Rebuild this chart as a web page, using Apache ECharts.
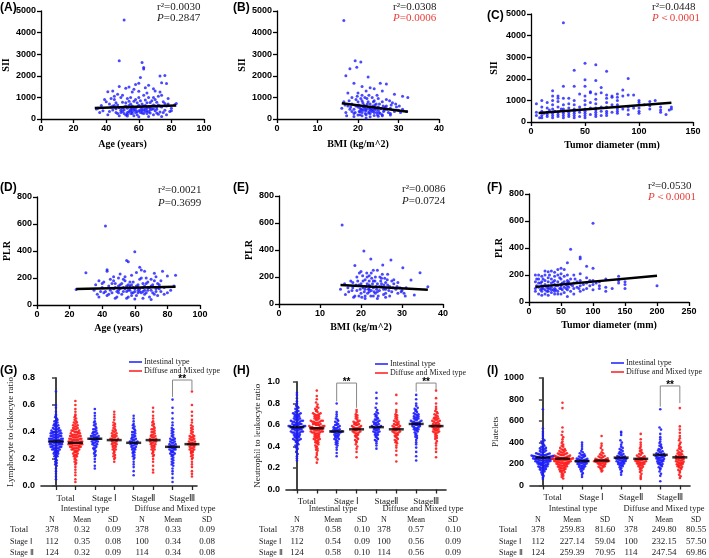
<!DOCTYPE html>
<html><head><meta charset="utf-8">
<script src="https://cdn.jsdelivr.net/npm/echarts@6/dist/echarts.min.js"></script>
<style>html,body{margin:0;padding:0;background:#fff}#c{width:709px;height:558px}</style>
</head><body><div id="c"></div>
<script>
// ---------------- DATA ----------------
const ageSII = [[51,4580],[48,2700],[62,2620],[63,2380],[63,2320],[73,1990],[76,2010],[61,1920],[77,1640],[74,1680],[60,1650],[58,1600],[66,1560],[54,1480],[48,1510],[44,1300],[41,1260],[52,1420],[57,1380],[64,1450],[69,1400],[70,1300],[73,1250],[56,1250],[60,1280],[47,1150],[50,1100],[45,1050],[39,900],[35,500],[34,460],[37,620],[38,380],[40,800],[42,700],[43,560],[44,420],[45,900],[46,300],[47,650],[48,520],[49,400],[50,780],[51,250],[52,600],[53,950],[54,350],[55,700],[56,480],[57,820],[58,300],[59,560],[60,1000],[61,420],[62,700],[63,250],[64,880],[65,500],[66,340],[67,760],[68,600],[69,200],[70,900],[71,450],[72,650],[73,320],[74,550],[75,800],[76,400],[77,600],[78,700],[79,350],[80,500],[82,660],[83,720],[36,300],[41,200],[43,950],[45,620],[47,250],[49,1000],[50,350],[52,180],[53,500],[54,820],[55,250],[56,600],[57,400],[58,900],[59,200],[60,640],[61,300],[62,500],[63,1100],[64,350],[65,750],[66,1000],[67,280],[68,450],[69,650],[70,380],[71,780],[72,220],[73,600],[74,1100],[75,300],[76,720],[77,200],[44,600],[46,750],[48,150],[51,560],[53,300],[55,1000],[57,150],[59,750],[61,850],[63,600],[65,250],[67,520],[69,1000],[71,280],[55,450],[58,520],[60,380],[62,280],[64,620],[66,550],[68,850],[52,750],[50,500],[54,620],[56,330],[46,470],[42,350],[65,1200],[70,600],[72,1050],[78,950],[80,380],[66,120],[60,100],[53,140],[74,120],[49,300],[51,420],[53,220],[55,380],[57,520],[59,330],[61,560],[63,420],[65,380],[67,420],[69,480],[71,560],[58,420],[62,380],[56,260],[64,480]];
const bmiSII = [[16.5,4560],[19.3,2700],[20.7,2640],[19.7,2400],[18,2330],[17,2000],[22.5,1950],[25.5,1650],[27,1620],[19,1650],[21,1500],[23,1450],[24,1400],[26,1300],[22,1300],[29,1150],[31,1050],[32.3,1000],[17.5,1200],[18.5,1000],[16,500],[16.5,800],[17,300],[17.5,600],[18,450],[18.5,700],[19,250],[19.5,900],[20,550],[20.5,350],[21,1100],[21.5,650],[22,200],[22.5,800],[23,450],[23.5,1000],[24,300],[24.5,700],[25,550],[25.5,250],[26,800],[26.5,400],[27,600],[27.5,300],[28,500],[28.5,750],[29,350],[29.5,550],[30,400],[30.5,300],[31,450],[32,350],[19,450],[20,800],[21,300],[22,600],[23,250],[24,850],[25,400],[26,200],[27,900],[28,250],[20,1200],[21,850],[22,450],[23,700],[24,550],[25,950],[19.5,600],[20.5,200],[21.5,400],[22.5,500],[23.5,350],[24.5,450],[18.5,350],[17.8,850],[20.2,650],[21.2,750],[22.2,950],[23.2,550],[24.2,650],[25.2,300],[26.2,600],[27.2,450],[28.2,650],[20.8,450],[21.8,250],[22.8,350],[23.8,800],[24.8,200],[19.8,1050],[18.2,550],[16.8,650],[21.3,550],[22.3,700],[23.3,400],[24.3,500],[25.3,700],[26.3,350],[20.3,350],[19.3,300],[22.7,1100],[23.7,600],[21.7,1000],[20.7,950],[24.7,1100],[26.7,550],[29.3,700],[30.2,600],[27.8,850],[17.2,150],[19,120],[21,150],[23,100],[25,130],[22,50],[24,160],[20,180],[26,150],[28,180],[21,420],[22,380],[23,520],[24,400],[20.5,500],[22.6,280],[23.6,450],[21.6,520],[24.6,300],[25.6,480]];
const tumorSII = [[30,4600],[50,2720],[60,2650],[40,2400],[70,2350],[50,1960],[60,1920],[90,2010],[85,1480],[30,1650],[50,1650],[40,1650],[20,1450],[25,1200],[65,1600],[55,1400],[60,1300],[70,1250],[80,1300],[75,1200],[100,1000],[100,900],[110,950],[120,700],[120,550],[130,700],[128,550],[5,300],[5,450],[5,850],[8,200],[10,300],[10,500],[10,700],[10,200],[12,400],[15,250],[15,450],[15,650],[15,350],[15,900],[17,550],[20,200],[20,400],[20,600],[20,800],[20,300],[20,1000],[22,500],[25,250],[25,450],[25,700],[25,350],[25,950],[28,600],[30,200],[30,400],[30,600],[30,800],[30,1100],[30,300],[30,500],[35,250],[35,450],[35,650],[35,850],[35,350],[40,200],[40,400],[40,600],[40,800],[40,300],[40,500],[40,1000],[45,250],[45,450],[45,700],[45,550],[50,200],[50,400],[50,600],[50,800],[50,1000],[50,1200],[50,300],[50,500],[55,350],[55,650],[55,900],[60,250],[60,450],[60,650],[60,850],[60,1050],[60,350],[60,550],[65,300],[65,700],[65,500],[70,300],[70,500],[70,700],[70,900],[70,1100],[70,400],[75,450],[75,800],[80,400],[80,600],[80,800],[80,1000],[80,500],[80,700],[85,600],[90,350],[90,550],[90,700],[95,650],[100,500],[100,650],[100,400],[105,800],[110,600],[110,750],[120,450],[115,1000],[125,350],[130,600],[35,1100],[45,1300],[55,1350],[65,1350],[75,1150],[85,1200],[90,1250],[10,1000],[25,1100],[20,1200],[95,1250],[80,1150]];
const agePLR = [[42,585],[60,395],[55,330],[56,320],[43,262],[43,250],[30,238],[63,280],[64,260],[66,250],[77,250],[80,215],[85,220],[72,235],[61,240],[58,220],[50,200],[47,210],[38,180],[36,150],[35,110],[24,115],[37,80],[38,60],[40,130],[41,170],[42,100],[43,70],[44,140],[45,190],[46,90],[47,120],[48,160],[49,60],[50,110],[51,150],[52,80],[53,130],[54,180],[55,100],[56,60],[57,140],[58,90],[59,170],[60,120],[61,70],[62,150],[63,100],[64,200],[65,130],[66,80],[67,160],[68,110],[69,60],[70,140],[71,90],[72,180],[73,120],[74,70],[75,150],[76,100],[78,130],[80,90],[82,110],[84,140],[45,110],[48,130],[50,90],[52,160],[54,120],[56,150],[58,70],[60,100],[62,130],[64,90],[66,140],[68,170],[70,110],[72,80],[74,130],[46,160],[49,100],[53,100],[57,110],[59,130],[61,140],[63,120],[65,100],[67,90],[69,130],[71,150],[73,100],[75,120],[51,120],[55,140],[59,90],[62,110],[65,160],[68,130],[44,80],[47,180],[53,190],[57,170],[63,190],[67,200],[70,190],[39,100],[41,90],[55,50],[65,50],[70,40],[60,45],[48,50],[73,210],[76,180],[51,230],[54,210],[50,140],[58,150],[66,110],[62,90],[56,110],[78,80],[74,160],[40,160]];
const bmiPLR = [[15.4,585],[20.7,393],[22.4,333],[27.3,326],[25.3,289],[30.2,269],[34.4,232],[18.5,285],[32.2,178],[33,67],[36.3,128],[15,110],[16,150],[17,90],[17.5,170],[18,120],[18.5,60],[19,200],[19,100],[19.5,140],[20,80],[20,240],[20.5,170],[21,110],[21,60],[21.5,200],[22,140],[22,90],[22.5,230],[23,120],[23,170],[23.5,80],[24,150],[24,250],[24.5,100],[25,190],[25,130],[25.5,70],[26,160],[26,110],[26.5,220],[27,130],[27.5,90],[28,150],[28.5,110],[29,80],[29.5,120],[30,100],[30.5,80],[31,120],[18,160],[19.5,60],[20.5,120],[21.5,150],[22.5,100],[23.5,200],[24.5,130],[25.5,110],[26.5,140],[27.5,170],[20,150],[21,180],[22,170],[23,60],[24,90],[25,150],[26,80],[22,110],[21.2,130],[22.8,150],[23.8,110],[24.8,170],[19.8,110],[20.8,90],[21.8,110],[22.2,130],[23.2,90],[18.8,140],[19.2,170],[17.8,100],[16.8,120],[25.8,190],[26.8,100],[27.8,120],[28.8,130],[29.8,90],[24.2,60],[23.7,130],[22.6,190],[21.6,80],[20.4,210],[19.6,230],[25.2,220],[28,180],[29,160],[23,250],[24,40],[21,40],[26,50],[22.4,60],[20.2,50],[18.2,50],[27,60],[16.2,70],[30.8,60],[22,210],[23.4,170],[24.6,200],[25.6,140],[26.4,180],[21.4,230]];
const tumorPLR = [[100,583],[65,390],[80,333],[80,320],[60,290],[90,265],[100,250],[200,120],[50,250],[55,240],[45,240],[35,230],[30,225],[40,220],[25,200],[20,190],[15,170],[10,200],[10,150],[10,100],[10,80],[12,120],[15,60],[15,110],[15,140],[18,90],[20,50],[20,80],[20,120],[20,150],[22,100],[25,60],[25,90],[25,130],[25,160],[28,110],[30,50],[30,80],[30,120],[30,150],[30,180],[32,100],[35,70],[35,110],[35,140],[35,170],[38,90],[40,60],[40,100],[40,130],[40,160],[40,190],[42,120],[45,80],[45,120],[45,150],[45,200],[48,100],[50,60],[50,100],[50,130],[50,170],[50,210],[52,90],[55,70],[55,110],[55,150],[55,190],[58,130],[60,40],[60,90],[60,120],[60,160],[60,200],[62,110],[65,80],[65,130],[65,170],[70,60],[70,100],[70,140],[70,200],[75,110],[75,150],[80,80],[80,120],[80,160],[80,210],[85,130],[90,100],[90,140],[90,180],[95,120],[100,90],[100,130],[100,160],[105,140],[110,120],[110,150],[120,80],[120,110],[120,170],[130,100],[140,140],[140,190],[140,160],[150,100],[150,130],[150,150],[12,170],[18,140],[22,170],[28,80],[32,200],[38,150],[42,90],[48,180],[52,140],[58,100],[62,150],[68,120],[72,170],[78,100],[85,90],[95,160],[110,100],[15,200],[25,230],[45,60],[30,100],[40,80],[50,120],[35,90],[20,100],[60,140]];

// regression lines (end points)
const fitAgeSII = [[33,510],[83,620]];
const fitBmiSII = [[16,730],[32.3,340]];
const fitTumorSII = [[7,420],[130,890]];
const fitAgePLR = [[24,118],[85,135]];
const fitBmiPLR = [[15,140],[36.3,105]];
const fitTumorPLR = [[10,112],[200,195]];

const statsText = [
  ['r²=0.0030','P=0.2847',false],['r²=0.0308','P=0.0006',true],['r²=0.0448','P＜0.0001',true],
  ['r²=0.0021','P=0.3699',false],['r²=0.0086','P=0.0724',false],['r²=0.0530','P＜0.0001',true]
];

const groupLabels = ['Total','Stage Ⅰ','StageⅡ','StageⅢ'];
const seriesNames = ['Intestinal type','Diffuse and Mixed type'];

// G: lymphocyte to leukocyte ratio, groups: Total(I,D), StageI(I,D), StageII(I,D), StageIII(I,D)
const lymG1 = [0.70,0.60,0.58,0.55,0.53,0.52,0.51,0.50,0.49,0.48,0.48,0.47,0.46,0.46,0.45,0.45,0.44,0.44,0.43,0.43,0.42,0.42,0.42,0.41,0.41,0.41,0.40,0.40,0.40,0.40,0.39,0.39,0.39,0.39,0.38,0.38,0.38,0.38,0.37,0.37,0.37,0.37,0.36,0.36,0.36,0.36,0.35,0.35,0.35,0.35,0.35,0.34,0.34,0.34,0.34,0.34,0.33,0.33,0.33,0.33,0.33,0.32,0.32,0.32,0.32,0.32,0.31,0.31,0.31,0.31,0.31,0.30,0.30,0.30,0.30,0.29,0.29,0.29,0.29,0.28,0.28,0.28,0.28,0.27,0.27,0.27,0.26,0.26,0.26,0.25,0.25,0.25,0.24,0.24,0.23,0.23,0.22,0.22,0.21,0.20,0.19,0.18,0.17,0.16,0.15,0.13,0.11,0.09,0.07,0.05];
const lymG2 = [0.63,0.60,0.57,0.55,0.53,0.52,0.51,0.50,0.49,0.48,0.47,0.47,0.46,0.45,0.45,0.44,0.44,0.43,0.43,0.42,0.42,0.41,0.41,0.41,0.40,0.40,0.40,0.39,0.39,0.39,0.38,0.38,0.38,0.38,0.37,0.37,0.37,0.37,0.36,0.36,0.36,0.36,0.35,0.35,0.35,0.35,0.34,0.34,0.34,0.34,0.34,0.33,0.33,0.33,0.33,0.33,0.32,0.32,0.32,0.32,0.32,0.31,0.31,0.31,0.31,0.31,0.30,0.30,0.30,0.30,0.30,0.29,0.29,0.29,0.29,0.28,0.28,0.28,0.28,0.27,0.27,0.27,0.26,0.26,0.26,0.25,0.25,0.24,0.24,0.23,0.23,0.22,0.22,0.21,0.20,0.19,0.18,0.17,0.16,0.14,0.12,0.10,0.08,0.05,0.03];
const lymG3 = [0.57,0.54,0.52,0.50,0.48,0.47,0.46,0.45,0.44,0.43,0.42,0.42,0.41,0.40,0.40,0.39,0.39,0.38,0.38,0.37,0.37,0.37,0.36,0.36,0.36,0.35,0.35,0.35,0.35,0.34,0.34,0.34,0.33,0.33,0.33,0.32,0.32,0.31,0.31,0.30,0.30,0.29,0.28,0.28,0.27,0.26,0.25,0.24,0.23,0.22,0.20,0.18,0.15,0.13];
const lymG4 = [0.55,0.53,0.51,0.49,0.47,0.46,0.45,0.44,0.43,0.42,0.41,0.41,0.40,0.39,0.39,0.38,0.38,0.37,0.37,0.36,0.36,0.35,0.35,0.35,0.34,0.34,0.34,0.33,0.33,0.32,0.32,0.31,0.31,0.30,0.30,0.29,0.29,0.28,0.27,0.27,0.26,0.25,0.24,0.23,0.22,0.21,0.20,0.18];
const lymG5 = [0.52,0.50,0.48,0.46,0.45,0.44,0.43,0.42,0.41,0.40,0.40,0.39,0.38,0.38,0.37,0.36,0.36,0.35,0.35,0.34,0.34,0.33,0.33,0.33,0.32,0.32,0.32,0.31,0.31,0.31,0.30,0.30,0.29,0.29,0.28,0.28,0.27,0.27,0.26,0.25,0.25,0.24,0.23,0.22,0.21,0.20,0.18,0.16,0.14,0.11,0.08];
const lymG6 = [0.58,0.55,0.52,0.50,0.48,0.47,0.46,0.45,0.44,0.43,0.42,0.42,0.41,0.40,0.40,0.39,0.38,0.38,0.37,0.37,0.36,0.36,0.35,0.35,0.34,0.34,0.34,0.33,0.33,0.33,0.32,0.32,0.31,0.31,0.30,0.30,0.29,0.29,0.28,0.27,0.27,0.26,0.25,0.24,0.23,0.22,0.20,0.18,0.15,0.12,0.10];
const lymG7 = [0.64,0.58,0.54,0.50,0.47,0.45,0.43,0.42,0.41,0.40,0.39,0.38,0.37,0.36,0.35,0.35,0.34,0.34,0.33,0.33,0.32,0.32,0.31,0.31,0.30,0.30,0.30,0.29,0.29,0.29,0.28,0.28,0.28,0.27,0.27,0.27,0.26,0.26,0.25,0.25,0.24,0.24,0.23,0.23,0.22,0.21,0.20,0.19,0.18,0.17,0.16,0.15,0.13,0.11,0.09,0.06,0.03];
const lymG8 = [0.70,0.60,0.55,0.52,0.49,0.47,0.45,0.44,0.43,0.42,0.41,0.40,0.39,0.38,0.37,0.37,0.36,0.36,0.35,0.35,0.34,0.34,0.33,0.33,0.32,0.32,0.32,0.31,0.31,0.31,0.30,0.30,0.30,0.29,0.29,0.28,0.28,0.27,0.27,0.26,0.26,0.25,0.25,0.24,0.23,0.22,0.21,0.20,0.18,0.16,0.14,0.11,0.09,0.07];
const lymMeans = [0.33,0.32,0.35,0.34,0.32,0.34,0.29,0.31];

// H: neutrophil to leukocyte ratio
const neuH1 = [0.90,0.88,0.85,0.82,0.80,0.78,0.77,0.76,0.75,0.74,0.73,0.72,0.72,0.71,0.71,0.70,0.70,0.69,0.69,0.68,0.68,0.67,0.67,0.66,0.66,0.65,0.65,0.65,0.64,0.64,0.64,0.63,0.63,0.63,0.62,0.62,0.62,0.61,0.61,0.61,0.60,0.60,0.60,0.60,0.59,0.59,0.59,0.59,0.58,0.58,0.58,0.58,0.57,0.57,0.57,0.57,0.56,0.56,0.56,0.56,0.55,0.55,0.55,0.54,0.54,0.54,0.53,0.53,0.53,0.52,0.52,0.52,0.51,0.51,0.50,0.50,0.50,0.49,0.49,0.48,0.48,0.47,0.47,0.46,0.46,0.45,0.45,0.44,0.43,0.42,0.41,0.40,0.39,0.38,0.37,0.35,0.33,0.31,0.29,0.27];
const neuH2 = [0.92,0.87,0.84,0.81,0.79,0.77,0.76,0.75,0.74,0.73,0.72,0.71,0.71,0.70,0.70,0.69,0.69,0.68,0.68,0.67,0.67,0.66,0.66,0.65,0.65,0.64,0.64,0.64,0.63,0.63,0.63,0.62,0.62,0.62,0.61,0.61,0.61,0.60,0.60,0.60,0.59,0.59,0.59,0.58,0.58,0.58,0.58,0.57,0.57,0.57,0.57,0.56,0.56,0.56,0.56,0.55,0.55,0.55,0.55,0.54,0.54,0.54,0.53,0.53,0.53,0.52,0.52,0.52,0.51,0.51,0.50,0.50,0.49,0.49,0.48,0.48,0.47,0.47,0.46,0.46,0.45,0.44,0.44,0.43,0.42,0.41,0.40,0.39,0.38,0.37,0.36,0.34,0.32,0.30,0.28,0.25];
const neuH3 = [0.80,0.72,0.70,0.68,0.66,0.65,0.64,0.63,0.62,0.61,0.60,0.60,0.59,0.58,0.58,0.57,0.57,0.56,0.56,0.55,0.55,0.55,0.54,0.54,0.54,0.53,0.53,0.53,0.52,0.52,0.51,0.51,0.50,0.50,0.49,0.49,0.48,0.47,0.47,0.46,0.45,0.44,0.43,0.42,0.41,0.39,0.37,0.34,0.31];
const neuH4 = [0.74,0.72,0.70,0.69,0.68,0.67,0.66,0.65,0.64,0.63,0.63,0.62,0.62,0.61,0.61,0.60,0.60,0.59,0.59,0.58,0.58,0.57,0.57,0.57,0.56,0.56,0.56,0.55,0.55,0.54,0.54,0.53,0.53,0.52,0.52,0.51,0.50,0.50,0.49,0.48,0.47,0.46,0.45,0.44,0.42,0.40,0.38,0.35,0.30];
const neuH5 = [0.90,0.85,0.80,0.76,0.74,0.72,0.71,0.70,0.69,0.68,0.67,0.66,0.65,0.65,0.64,0.63,0.63,0.62,0.62,0.61,0.61,0.60,0.60,0.59,0.59,0.58,0.58,0.58,0.57,0.57,0.56,0.56,0.55,0.55,0.54,0.54,0.53,0.53,0.52,0.51,0.51,0.50,0.49,0.48,0.47,0.46,0.45,0.43,0.41,0.38];
const neuH6 = [0.88,0.80,0.74,0.72,0.70,0.69,0.68,0.67,0.66,0.65,0.64,0.63,0.63,0.62,0.61,0.61,0.60,0.60,0.59,0.59,0.58,0.58,0.57,0.57,0.56,0.56,0.56,0.55,0.55,0.54,0.54,0.53,0.53,0.52,0.52,0.51,0.50,0.50,0.49,0.48,0.47,0.46,0.45,0.44,0.43,0.41,0.39,0.36,0.32,0.26];
const neuH7 = [0.88,0.84,0.80,0.78,0.76,0.75,0.74,0.73,0.72,0.71,0.70,0.70,0.69,0.68,0.68,0.67,0.67,0.66,0.66,0.65,0.65,0.64,0.64,0.63,0.63,0.63,0.62,0.62,0.62,0.61,0.61,0.61,0.60,0.60,0.60,0.59,0.59,0.58,0.58,0.57,0.57,0.56,0.56,0.55,0.55,0.54,0.53,0.52,0.51,0.50,0.49,0.48,0.46,0.44,0.42,0.39,0.35,0.31,0.27];
const neuH8 = [0.92,0.85,0.80,0.77,0.75,0.73,0.72,0.71,0.70,0.69,0.68,0.67,0.67,0.66,0.66,0.65,0.65,0.64,0.64,0.63,0.63,0.62,0.62,0.61,0.61,0.60,0.60,0.60,0.59,0.59,0.58,0.58,0.58,0.57,0.57,0.56,0.56,0.55,0.55,0.54,0.54,0.53,0.53,0.52,0.51,0.50,0.49,0.48,0.47,0.45,0.43,0.41,0.38,0.35,0.30];
const neuMeans = [0.58,0.57,0.54,0.56,0.58,0.56,0.61,0.59];

// I: platelets
const pltI1 = [710,530,500,480,460,440,420,410,400,390,380,370,360,355,350,345,340,335,330,325,320,315,310,305,300,298,295,292,290,287,285,282,280,278,275,273,270,268,265,263,260,258,256,254,252,250,248,246,244,242,240,238,236,234,232,230,228,226,224,222,220,218,216,214,212,210,207,204,201,198,195,192,189,186,183,180,177,174,170,166,162,158,154,150,145,140,135,130,120,110,100,90,75,60,262,266,272,276,284,255,245,235];
const pltI2 = [770,720,540,500,470,450,430,410,395,380,370,360,350,340,335,330,325,320,315,310,305,300,297,294,290,287,284,281,278,275,272,269,266,263,260,257,254,251,248,245,242,240,238,236,234,232,230,228,226,224,222,220,218,216,214,212,210,208,206,204,202,200,197,194,191,188,185,182,179,176,173,170,166,162,158,154,150,145,140,135,130,125,118,110,100,90,80,65,249,246,243,239,252,255,258];
const pltI3 = [400,380,360,340,320,310,300,290,285,280,275,270,265,260,255,250,248,245,242,240,237,234,231,228,225,222,220,218,215,212,210,207,204,200,197,194,190,186,182,178,174,170,165,160,155,150,140,130,115,100,80];
const pltI4 = [460,390,370,350,330,310,300,290,282,275,270,265,260,255,252,248,245,242,240,237,234,232,230,228,226,224,222,220,218,216,214,212,210,207,204,200,196,192,188,184,180,175,170,165,158,150,140,130];
const pltI5 = [500,490,470,420,400,380,360,350,340,330,320,312,305,298,292,286,280,275,270,266,262,258,255,252,249,246,243,240,237,234,231,228,225,222,219,216,212,208,204,200,195,190,185,180,170,160,150,135,120,100];
const pltI6 = [480,430,400,380,360,345,330,320,310,300,292,285,278,272,267,262,258,254,250,247,244,241,238,235,232,229,226,223,220,217,214,211,208,205,202,199,195,190,185,180,174,168,160,150,140,125,110,90,75,60];
const pltI7 = [710,540,520,480,450,430,410,395,380,370,360,350,340,332,325,318,312,306,300,296,292,288,284,280,276,272,268,265,262,259,256,252,248,244,240,236,232,228,224,220,215,210,205,200,195,190,180,170,160,150,130,110,90,40];
const pltI8 = [720,550,520,490,460,440,420,400,385,370,355,345,335,325,318,310,303,297,291,285,280,275,270,266,262,258,254,250,246,242,238,234,230,226,222,218,214,210,206,202,198,194,190,185,180,175,170,162,155,145,135,120,100,85,70];
const pltMeans = [260,250,227,232,259,248,285,262];

// significance brackets: [groupA, groupB, bottomA, top, bottomB]
const bracketsG = [[6,7,0.66,0.785,0.71]];
const bracketsH = [[2,3,0.82,0.99,0.76],[6,7,0.91,0.99,0.93]];
const bracketsI = [[6,7,733,926,767]];

// tables
const tableRows = ['Total','Stage Ⅰ','Stage Ⅱ'];
const tableHead = ['N','Mean','SD','N','Mean','SD'];
const tableG = [['378','0.32','0.09','378','0.33','0.09'],['112','0.35','0.08','100','0.34','0.08'],['124','0.32','0.09','114','0.34','0.08']];
const tableH = [['378','0.58','0.10','378','0.57','0.10'],['112','0.54','0.09','100','0.56','0.09'],['124','0.58','0.10','114','0.56','0.09']];
const tableI = [['378','259.83','81.60','378','249.80','80.55'],['112','227.14','59.04','100','232.15','57.50'],['124','259.39','70.95','114','247.54','69.86']];

// ---------------- LAYOUT / STYLE ----------------
const SERIF = 'Liberation Serif', SANS = 'Liberation Sans';
const BLUE = '#1c1cff', RED = '#ff1a1a';
const grids = [
  {left:41,top:11,width:163,height:108},
  {left:277,top:11,width:162,height:108},
  {left:531,top:14,width:162,height:108},
  {left:37,top:197,width:163,height:108},
  {left:279,top:196,width:164,height:108},
  {left:529,top:194,width:160,height:108},
  {left:41,top:378,width:156,height:108},
  {left:286,top:382,width:160,height:107.5},
  {left:530,top:378,width:160,height:107.5}
];
const scatterPanels = [
  {data:ageSII, fit:fitAgeSII, x:[0,100,20], y:[0,5000,1000], xName:'Age (years)', yName:'SII', xGap:20, yGap:30},
  {data:bmiSII, fit:fitBmiSII, x:[0,40,10], y:[0,5000,1000], xName:'BMI (kg/m^2)', yName:'SII', xGap:20, yGap:30},
  {data:tumorSII, fit:fitTumorSII, x:[0,150,50], y:[0,5000,1000], xName:'Tumor diameter (mm)', yName:'SII', xGap:18, yGap:32},
  {data:agePLR, fit:fitAgePLR, x:[0,100,20], y:[0,800,200], xName:'Age (years)', yName:'PLR', xGap:18, yGap:25},
  {data:bmiPLR, fit:fitBmiPLR, x:[0,40,10], y:[0,800,200], xName:'BMI (kg/m^2)', yName:'PLR', xGap:18, yGap:25},
  {data:tumorPLR, fit:fitTumorPLR, x:[0,250,50], y:[0,800,200], xName:'Tumor diameter (mm)', yName:'PLR', xGap:18, yGap:25}
];
const swarmPanels = [
  {groups:[lymG1,lymG2,lymG3,lymG4,lymG5,lymG6,lymG7,lymG8], means:lymMeans, brackets:bracketsG, xr:[-0.77,7.26], y:[0,0.8,0.2], dec:1, yName:'Lymphocyte to leukocyte ratio', yGap:26, table:tableG},
  {groups:[neuH1,neuH2,neuH3,neuH4,neuH5,neuH6,neuH7,neuH8], means:neuMeans, brackets:bracketsH, xr:[-0.55,7.5], y:[0,1.0,0.2], dec:1, yName:'Neutrophil to leukocyte ratio', yGap:24, table:tableH},
  {groups:[pltI1,pltI2,pltI3,pltI4,pltI5,pltI6,pltI7,pltI8], means:pltMeans, brackets:bracketsI, xr:[-0.66,7.52], y:[0,1000,200], dec:0, yName:'Platelets', yGap:28, table:tableI}
];

const axLine = {show:true, onZero:false, lineStyle:{color:'#000', width:1.3}};
const axTick = {show:true, length:4, lineStyle:{color:'#000', width:1.3}};
const tickFont = {fontFamily:SANS, fontWeight:'bold', fontSize:9, color:'#000'};
const plain = v => String(v);

const xAxes = [], yAxes = [], series = [];

scatterPanels.forEach((p, i) => {
  xAxes.push({gridIndex:i, type:'value', min:p.x[0], max:p.x[1], interval:p.x[2], splitLine:{show:false},
    axisLine:axLine, axisTick:axTick, axisLabel:Object.assign({margin:5, formatter:plain}, tickFont),
    name:p.xName, nameLocation:'middle', nameGap:p.xGap,
    nameTextStyle:{fontFamily:SERIF, fontWeight:'bold', fontSize:10, color:'#000'}});
  yAxes.push({gridIndex:i, type:'value', min:p.y[0], max:p.y[1], interval:p.y[2], splitLine:{show:false},
    axisLine:axLine, axisTick:axTick, axisLabel:Object.assign({margin:5, formatter:plain}, tickFont),
    name:p.yName, nameLocation:'middle', nameGap:p.yGap,
    nameTextStyle:{fontFamily:SERIF, fontWeight:'bold', fontSize:10, color:'#000'}});
  series.push({type:'scatter', xAxisIndex:i, yAxisIndex:i, data:p.data, symbolSize:3, clip:false,
    itemStyle:{color:BLUE}, silent:true, z:2});
  series.push({type:'line', xAxisIndex:i, yAxisIndex:i, data:p.fit, symbol:'none', silent:true,
    lineStyle:{color:'#000', width:2.5}, z:3});
});

function swarm(values, g, pxY, pxX) {
  const binPx = 2.6, stepPx = 1.5;
  const bins = new Map();
  values.slice().sort((a,b)=>a-b).forEach(v => {
    const b = Math.round(v * pxY / binPx);
    if (!bins.has(b)) bins.set(b, []);
    bins.get(b).push(v);
  });
  const out = [];
  bins.forEach(arr => {
    const n = arr.length;
    arr.forEach((v, k) => {
      const slot = (k % 2 === 0) ? k/2 : -(k+1)/2;
      const shift = (n % 2 === 0) ? 0.5 : 0;
      out.push([g + (slot + shift) * stepPx / pxX, v]);
    });
  });
  return out;
}

swarmPanels.forEach((p, j) => {
  const i = 6 + j;
  const gr = grids[i];
  const pxX = gr.width / (p.xr[1] - p.xr[0]);
  const pxY = gr.height / (p.y[1] - p.y[0]);
  xAxes.push({gridIndex:i, type:'value', min:p.xr[0], max:p.xr[1], splitLine:{show:false},
    axisLine:{show:true, onZero:false, lineStyle:{color:'#222', width:1.6}},
    axisTick:{show:true, length:4, customValues:[0,1,2,3,4,5,6,7], lineStyle:{color:'#222', width:1.3}},
    axisLabel:{customValues:[0.5,2.5,4.5,6.5], margin:8, fontFamily:SERIF, fontSize:9, color:'#222',
      formatter: v => groupLabels[Math.round((v - 0.5) / 2)]}});
  yAxes.push({gridIndex:i, type:'value', min:p.y[0], max:p.y[1], interval:p.y[2], splitLine:{show:false},
    axisLine:{show:true, lineStyle:{color:'#444', width:2}}, axisTick:{show:true, length:4, lineStyle:{color:'#444', width:1.5}},
    axisLabel:Object.assign({margin:6, formatter: v => v.toFixed(p.dec)}, tickFont),
    name:p.yName, nameLocation:'middle', nameGap:p.yGap,
    nameTextStyle:{fontFamily:SERIF, fontSize:9, color:'#222'}});
  p.groups.forEach((vals, g) => {
    series.push({type:'scatter', xAxisIndex:i, yAxisIndex:i, data:swarm(vals, g, pxY, pxX), symbolSize:2.6, clip:false,
      itemStyle:{color: g % 2 === 0 ? BLUE : RED, opacity:0.9}, silent:true, z:2});
  });
  series.push({type:'scatter', xAxisIndex:i, yAxisIndex:i, data:p.means.map((m, g) => [g, m]),
    symbol:'rect', symbolSize:[15,2.5], itemStyle:{color:'#000'}, silent:true, z:5});
  p.brackets.forEach(b => {
    series.push({type:'line', xAxisIndex:i, yAxisIndex:i, data:[[b[0],b[2]],[b[0],b[3]],[b[1],b[3]],[b[1],b[4]]],
      symbol:'none', silent:true, clip:false, lineStyle:{color:'#888', width:1}, z:4});
  });
});

// ---------------- TEXT GRAPHICS ----------------
const graphics = [];
function txt(x, y, text, font, fill, align, vAlign) {
  graphics.push({type:'text', x:x, y:y, silent:true, z:10,
    style:{text:text, font:font, fill:fill || '#000', textAlign:align || 'left', textVerticalAlign:vAlign || 'middle', align:align || 'left', verticalAlign:vAlign || 'middle'}});
}
const panelLabels = [['(A)',0,8],['(B)',233,8],['(C)',487,16],['(D)',0,188],['(E)',233,188],['(F)',487,188],['(G)',0,371],['(H)',233,371],['(I)',487,371]];
panelLabels.forEach(l => txt(l[1], l[2], l[0], 'bold 12px ' + SANS));

const statPos = [[157,7,18],[393,7,18],[652,7,18],[158,190,203],[402,189,201],[648,186,197]];
statsText.forEach((s, k) => {
  const pos = statPos[k];
  txt(pos[0], pos[1], s[0], '11px ' + SERIF, '#222');
  const col = s[2] ? '#e8413b' : '#222';
  graphics.push({type:'text', x:pos[0], y:pos[2], silent:true,
    style:{text:'{i|P}{n|' + s[1].slice(1) + '}', font:'11px ' + SERIF, fill:col, textVerticalAlign:'middle', verticalAlign:'middle',
      rich:{i:{font:'italic 11px ' + SERIF, fill:col}, n:{font:'11px ' + SERIF, fill:col}}}});
});

// legends
const legendPos = [[129,362],[375,364],[611,363]];
legendPos.forEach(lp => {
  [BLUE, RED].forEach((c, k) => {
    const y = lp[1] + k * 9;
    graphics.push({type:'line', silent:true, shape:{x1:lp[0], y1:y, x2:lp[0] + 13, y2:y}, style:{stroke:c, lineWidth:1.5}});
    txt(lp[0] + 15, y, seriesNames[k], '8px ' + SERIF, '#222');
  });
});

// tables
const tablePos = [
  {rowX:10, cols:[52,82,113,142,173,207], type:[85,175]},
  {rowX:259, cols:[297,333,362,384,416,453], type:[333,423]},
  {rowX:499, cols:[538,572,605,631,664,696], type:[573,664]}
];
const tables = [tableG, tableH, tableI];
tablePos.forEach((tp, k) => {
  txt(tp.type[0], 509, seriesNames[0], '8.5px ' + SERIF, '#222', 'center');
  txt(tp.type[1], 509, seriesNames[1], '8.5px ' + SERIF, '#222', 'center');
  tableHead.forEach((h, c) => txt(tp.cols[c], 519.5, h, '8px ' + SERIF, '#222', 'center'));
  tableRows.forEach((r, ri) => {
    const y = 530 + ri * 11.5;
    txt(tp.rowX, y, r, (ri === 0 ? '9px ' : '8px ') + SERIF, '#222');
    tables[k][ri].forEach((v, c) => txt(tp.cols[c], y, v, '9px ' + SERIF, '#222', 'center'));
  });
});

const chart = echarts.init(document.getElementById('c'), null, {renderer:'canvas'});
const option = {
  animation:false,
  backgroundColor:'#fff',
  grid:grids.map(g => Object.assign({containLabel:false}, g)),
  xAxis:xAxes, yAxis:yAxes, series:series, graphic:graphics
};
chart.setOption(option);

// significance stars placed through the axes' own scales
swarmPanels.forEach((p, j) => {
  const i = 6 + j;
  p.brackets.forEach(b => {
    const pt = chart.convertToPixel({gridIndex:i}, [(b[0] + b[1]) / 2, b[3]]);
    graphics.push({type:'text', x:pt[0], y:pt[1] - 1, silent:true, z:10,
      style:{text:'**', font:'bold 10px ' + SANS, fill:'#000', textAlign:'center', align:'center', textVerticalAlign:'middle', verticalAlign:'middle'}});
  });
});
chart.setOption({graphic:graphics});
</script></body></html>
